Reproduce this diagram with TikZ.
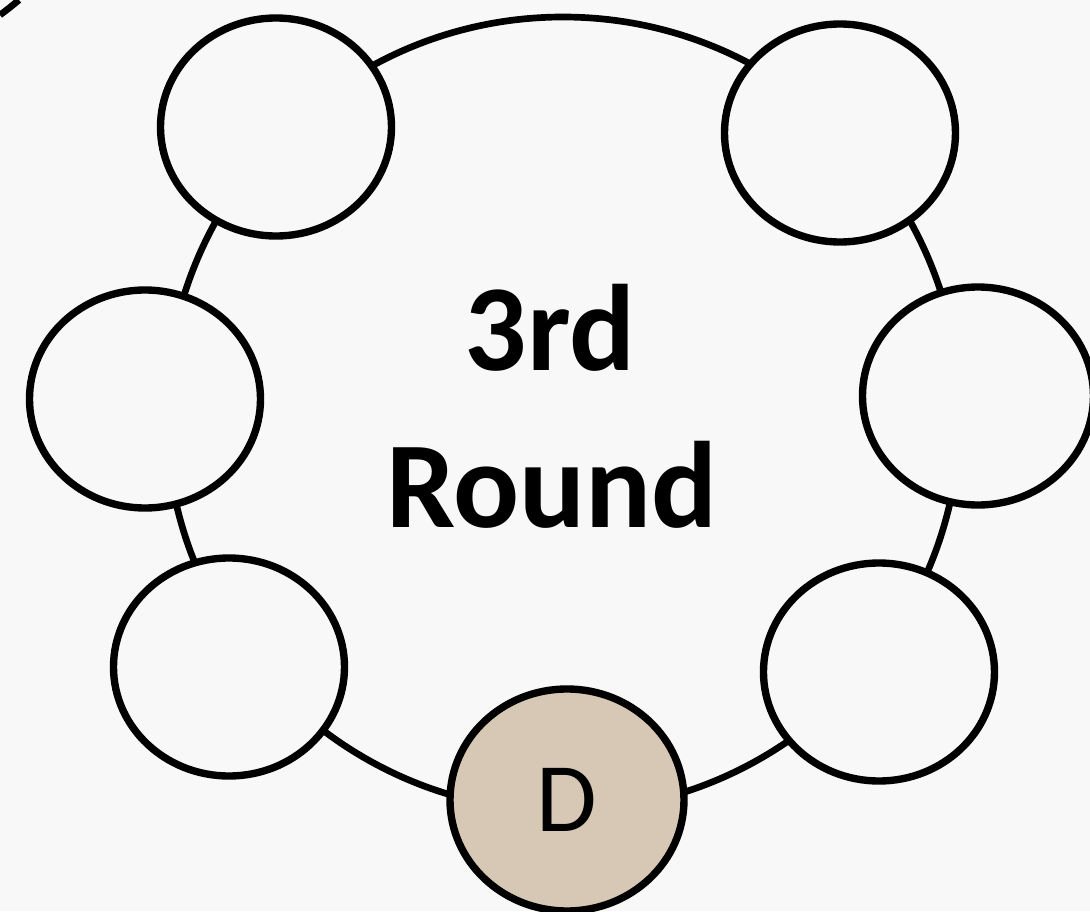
\documentclass[tikz,border=0pt]{standalone}
\usepackage{fontspec}
\setmainfont{Carlito}
\usetikzlibrary{shapes.geometric, positioning}
\definecolor{paper}{RGB}{248,248,248}
\definecolor{dealertan}{RGB}{214,200,181}

\begin{document}
\begin{tikzpicture}[
        seat/.style={ellipse, draw, line width=2.1pt, fill=paper,
                     minimum width=2.31cm, minimum height=2.18cm, inner sep=0pt},
        dealer/.style={seat, fill=dealertan, minimum width=2.34cm, minimum height=2.22cm,
                       font=\fontsize{28}{30}\selectfont},
        title/.style={font=\bfseries\fontsize{35}{40}\selectfont, anchor=base, inner sep=0pt}
    ]
    % --- parameters ---
    \def\Ring{3.97}   % radius of the table ring

    % --- page ---
    \fill[paper] (0,0) rectangle (10.90,9.11);
    \useasboundingbox (0,0) rectangle (10.90,9.11);

    % --- ring behind the seats ---
    \coordinate (O) at (5.63,4.97);
    \draw[line width=1.9pt] (O) circle (\Ring);

    % cut-off arc in the corner
    \draw[line width=1.9pt] (0,8.96) .. controls (0.08,9.02) .. (0.19,9.11);

    % --- seats ---
    \node[seat] (TL) at (2.76,7.84) {};
    \node[seat] (TR) at (8.40,7.78) {};
    \node[seat] (ML) at (1.45,5.12) {};
    \node[seat] (MR) at (9.78,5.15) {};
    \node[seat] (BL) at (2.29,2.44) {};
    \node[seat] (BR) at (8.79,2.39) {};
    \node[dealer] (D) at (5.67,1.11) {D};

    % --- label ---
    \node[title] (third) at (5.50,5.41) {3rd};
    \node[title] (round) at (5.52,3.84) {Round};
\end{tikzpicture}
\end{document}
